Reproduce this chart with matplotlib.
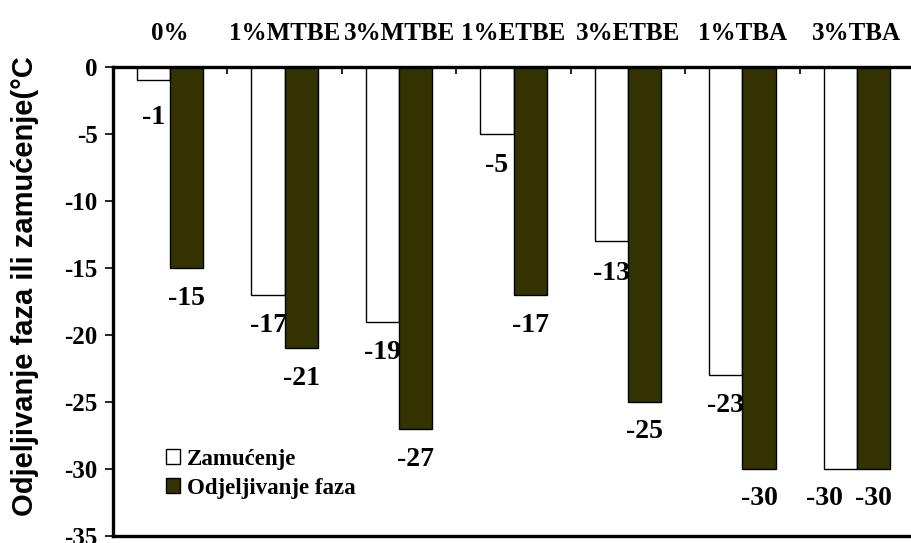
import matplotlib
matplotlib.use("Agg")
import matplotlib.pyplot as plt
import numpy as np
from matplotlib.patches import Patch

categories = ["0%", "1%MTBE", "3%MTBE", "1%ETBE", "3%ETBE", "1%TBA", "3%TBA"]
zamucenje = [-1, -17, -19, -5, -13, -23, -30]
odjeljivanje = [-15, -21, -27, -17, -25, -30, -30]
series_names = ["Zamućenje", "Odjeljivanje faza"]
yticks = [0, -5, -10, -15, -20, -25, -30, -35]
ytick_labels = ["0", "-5", "-10", "-15", "-20", "-25", "-30", "-35"]
ylabel = "Odjeljivanje faza ili zamućenje(°C"

# label offsets in points (styling, not data)
zam_dx = [0, 0, 0, 0, 0, 0, -11]
zam_dy = [-27, -22, -22, -23, -23, -22, -21]
odj_dx = [0, 0, 0, 0, 0, 0, 0]
odj_dy = [-22, -22, -22, -22, -21, -21, -21]

plt.rcParams['axes.unicode_minus'] = False
serif = "Liberation Serif"
dark = "#333300"

fig = plt.figure(figsize=(9.11, 5.43), dpi=100)
ax = fig.add_axes([113/911, 7/543, 801/911, 469/543])

x = np.arange(len(categories))
w = 0.29
b1 = ax.bar(x - w/2, zamucenje, w, color="white", edgecolor="black", linewidth=1.0, zorder=2)
b2 = ax.bar(x + w/2, odjeljivanje, w, color=dark, edgecolor="black", linewidth=1.0, zorder=2)

for bars, vals, dxs, dys in ((b1, zamucenje, zam_dx, zam_dy), (b2, odjeljivanje, odj_dx, odj_dy)):
    for r, v, dx, dy in zip(bars, vals, dxs, dys):
        ax.annotate(str(v), (r.get_x() + r.get_width()/2, v), xytext=(dx, dy),
                    textcoords="offset points", ha="center", va="center",
                    fontfamily=serif, fontweight="bold", fontsize=20, zorder=3)

ax.set_xlim(-0.5, len(categories) - 0.5)
ax.set_ylim(-35, 0)

for s in ["top", "bottom", "left"]:
    ax.spines[s].set_linewidth(2.4)
    ax.spines[s].set_color("black")
ax.spines["right"].set_visible(False)

ax.set_xticks(x)
ax.set_xticklabels(categories, fontfamily=serif, fontweight="bold", fontsize=18)
ax.set_xticks(np.arange(0.5, len(categories) - 0.5, 1.0), minor=True)
ax.xaxis.set_ticks_position("top")
ax.tick_params(axis="x", which="major", length=0, pad=16)
ax.tick_params(axis="x", which="minor", direction="in", length=5, width=1.2)

ax.set_yticks(yticks)
ax.set_yticklabels(ytick_labels, fontfamily=serif, fontweight="bold", fontsize=18)
ax.tick_params(axis="y", direction="out", length=6, width=1.2, pad=5)

ax.set_ylabel(ylabel, fontfamily="Liberation Sans", fontweight="bold", fontsize=21)
ax.yaxis.set_label_coords(-0.092, 0.532)

handles = [Patch(facecolor="white", edgecolor="black", linewidth=1.0),
           Patch(facecolor=dark, edgecolor="black", linewidth=1.0)]
ax.legend(handles, series_names, loc="lower left", bbox_to_anchor=(0.055, 0.06),
          frameon=False, handlelength=0.6, handleheight=0.6, handletextpad=0.3,
          labelspacing=0.35, borderaxespad=0,
          prop={"family": serif, "weight": "bold", "size": 16.5})

fig.savefig("out.png", dpi=100)
